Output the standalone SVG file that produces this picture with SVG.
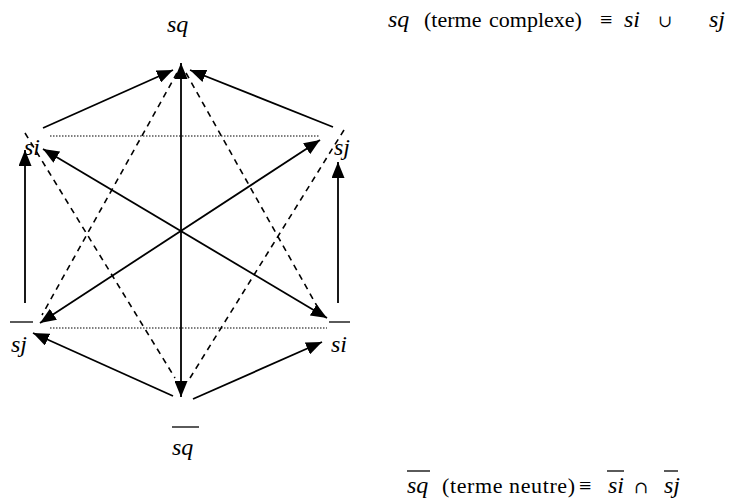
<svg xmlns="http://www.w3.org/2000/svg" width="732" height="499" viewBox="0 0 732 499">
<style>
.bg{fill:#fff}
.t{font-family:"Liberation Serif","Times New Roman",serif;font-size:24px;fill:#000}
.f{font-size:22px}
.m{font-family:"DejaVu Serif","Liberation Serif",serif;font-size:17px}
.i{font-style:italic}
.s{stroke:#000;stroke-width:1.8;fill:none}
.d{stroke:#000;stroke-width:1.6;fill:none;stroke-dasharray:6 5}
.dot{stroke:#000;stroke-width:1.2;fill:none;stroke-dasharray:1.5 1.5}
.bar{stroke:#000;stroke-width:1.3}
</style>
<defs>
<marker id="ah" viewBox="0 0 16 13" markerWidth="16" markerHeight="13" refX="16" refY="6.5" orient="auto-start-reverse" markerUnits="userSpaceOnUse">
<path d="M0,0 L16,6.5 L0,13 z" fill="#000"/>
</marker>
</defs>
<rect class="bg" x="0" y="0" width="732" height="499"/>
<g id="connectors">
<line class="dot" x1="50" y1="136" x2="320" y2="136"/>
<line class="dot" x1="50" y1="328" x2="327" y2="328"/>
<line class="d" x1="177" y1="73" x2="42" y2="315"/>
<line class="d" x1="186" y1="73" x2="322" y2="315"/>
<line class="d" x1="25" y1="133" x2="175" y2="378"/>
<line class="d" x1="344" y1="130" x2="190" y2="378"/>
<line class="s" x1="181" y1="397" x2="181" y2="63" marker-start="url(#ah)" marker-end="url(#ah)"/>
<line class="s" x1="43" y1="128" x2="173" y2="70" marker-end="url(#ah)"/>
<line class="s" x1="333" y1="127" x2="190" y2="70" marker-end="url(#ah)"/>
<line class="s" x1="25" y1="303" x2="25" y2="150" marker-end="url(#ah)"/>
<line class="s" x1="338" y1="303" x2="338" y2="162" marker-end="url(#ah)"/>
<line class="s" x1="173" y1="396" x2="33" y2="333" marker-end="url(#ah)"/>
<line class="s" x1="193" y1="399" x2="322" y2="342" marker-end="url(#ah)"/>
<line class="s" x1="43" y1="149" x2="327" y2="318" marker-start="url(#ah)" marker-end="url(#ah)"/>
<line class="s" x1="320" y1="140" x2="40" y2="323" marker-start="url(#ah)" marker-end="url(#ah)"/>
</g>
<g id="node-sq"><text class="t i" x="167" y="32">sq</text></g>
<g id="node-si"><text class="t i" x="24" y="155">si</text></g>
<g id="node-sj"><text class="t i" x="334" y="155">sj</text></g>
<g id="node-sj-bar"><line class="bar" x1="10" y1="322" x2="33" y2="322"/><text class="t i" x="11" y="352">sj</text></g>
<g id="node-si-bar"><line class="bar" x1="329" y1="322" x2="350" y2="322"/><text class="t i" x="331" y="352">si</text></g>
<g id="node-sq-bar"><line class="bar" x1="172" y1="427" x2="199" y2="427"/><text class="t i" x="172" y="455">sq</text></g>
<g id="formula-top">
<text class="t i" x="388" y="27">sq</text>
<text class="t f" x="424" y="27">(terme</text>
<text class="t f" x="489" y="27">complexe)</text>
<text class="t f" x="600" y="27">≡</text>
<text class="t i" x="624" y="27">si</text>
<text class="t m" x="658" y="27">∪</text>
<text class="t i" x="709" y="27">sj</text>
</g>
<g id="formula-bottom">
<line class="bar" x1="407" y1="471" x2="430" y2="471"/>
<text class="t i" x="407" y="493">sq</text>
<text class="t f" x="442" y="493" textLength="133">(terme neutre)</text>
<text class="t f" x="579" y="493">≡</text>
<line class="bar" x1="607" y1="471" x2="624" y2="471"/>
<text class="t i" x="608" y="493">si</text>
<text class="t m" x="634" y="493">∩</text>
<line class="bar" x1="664" y1="471" x2="678" y2="471"/>
<text class="t i" x="664" y="493">sj</text>
</g>
</svg>
